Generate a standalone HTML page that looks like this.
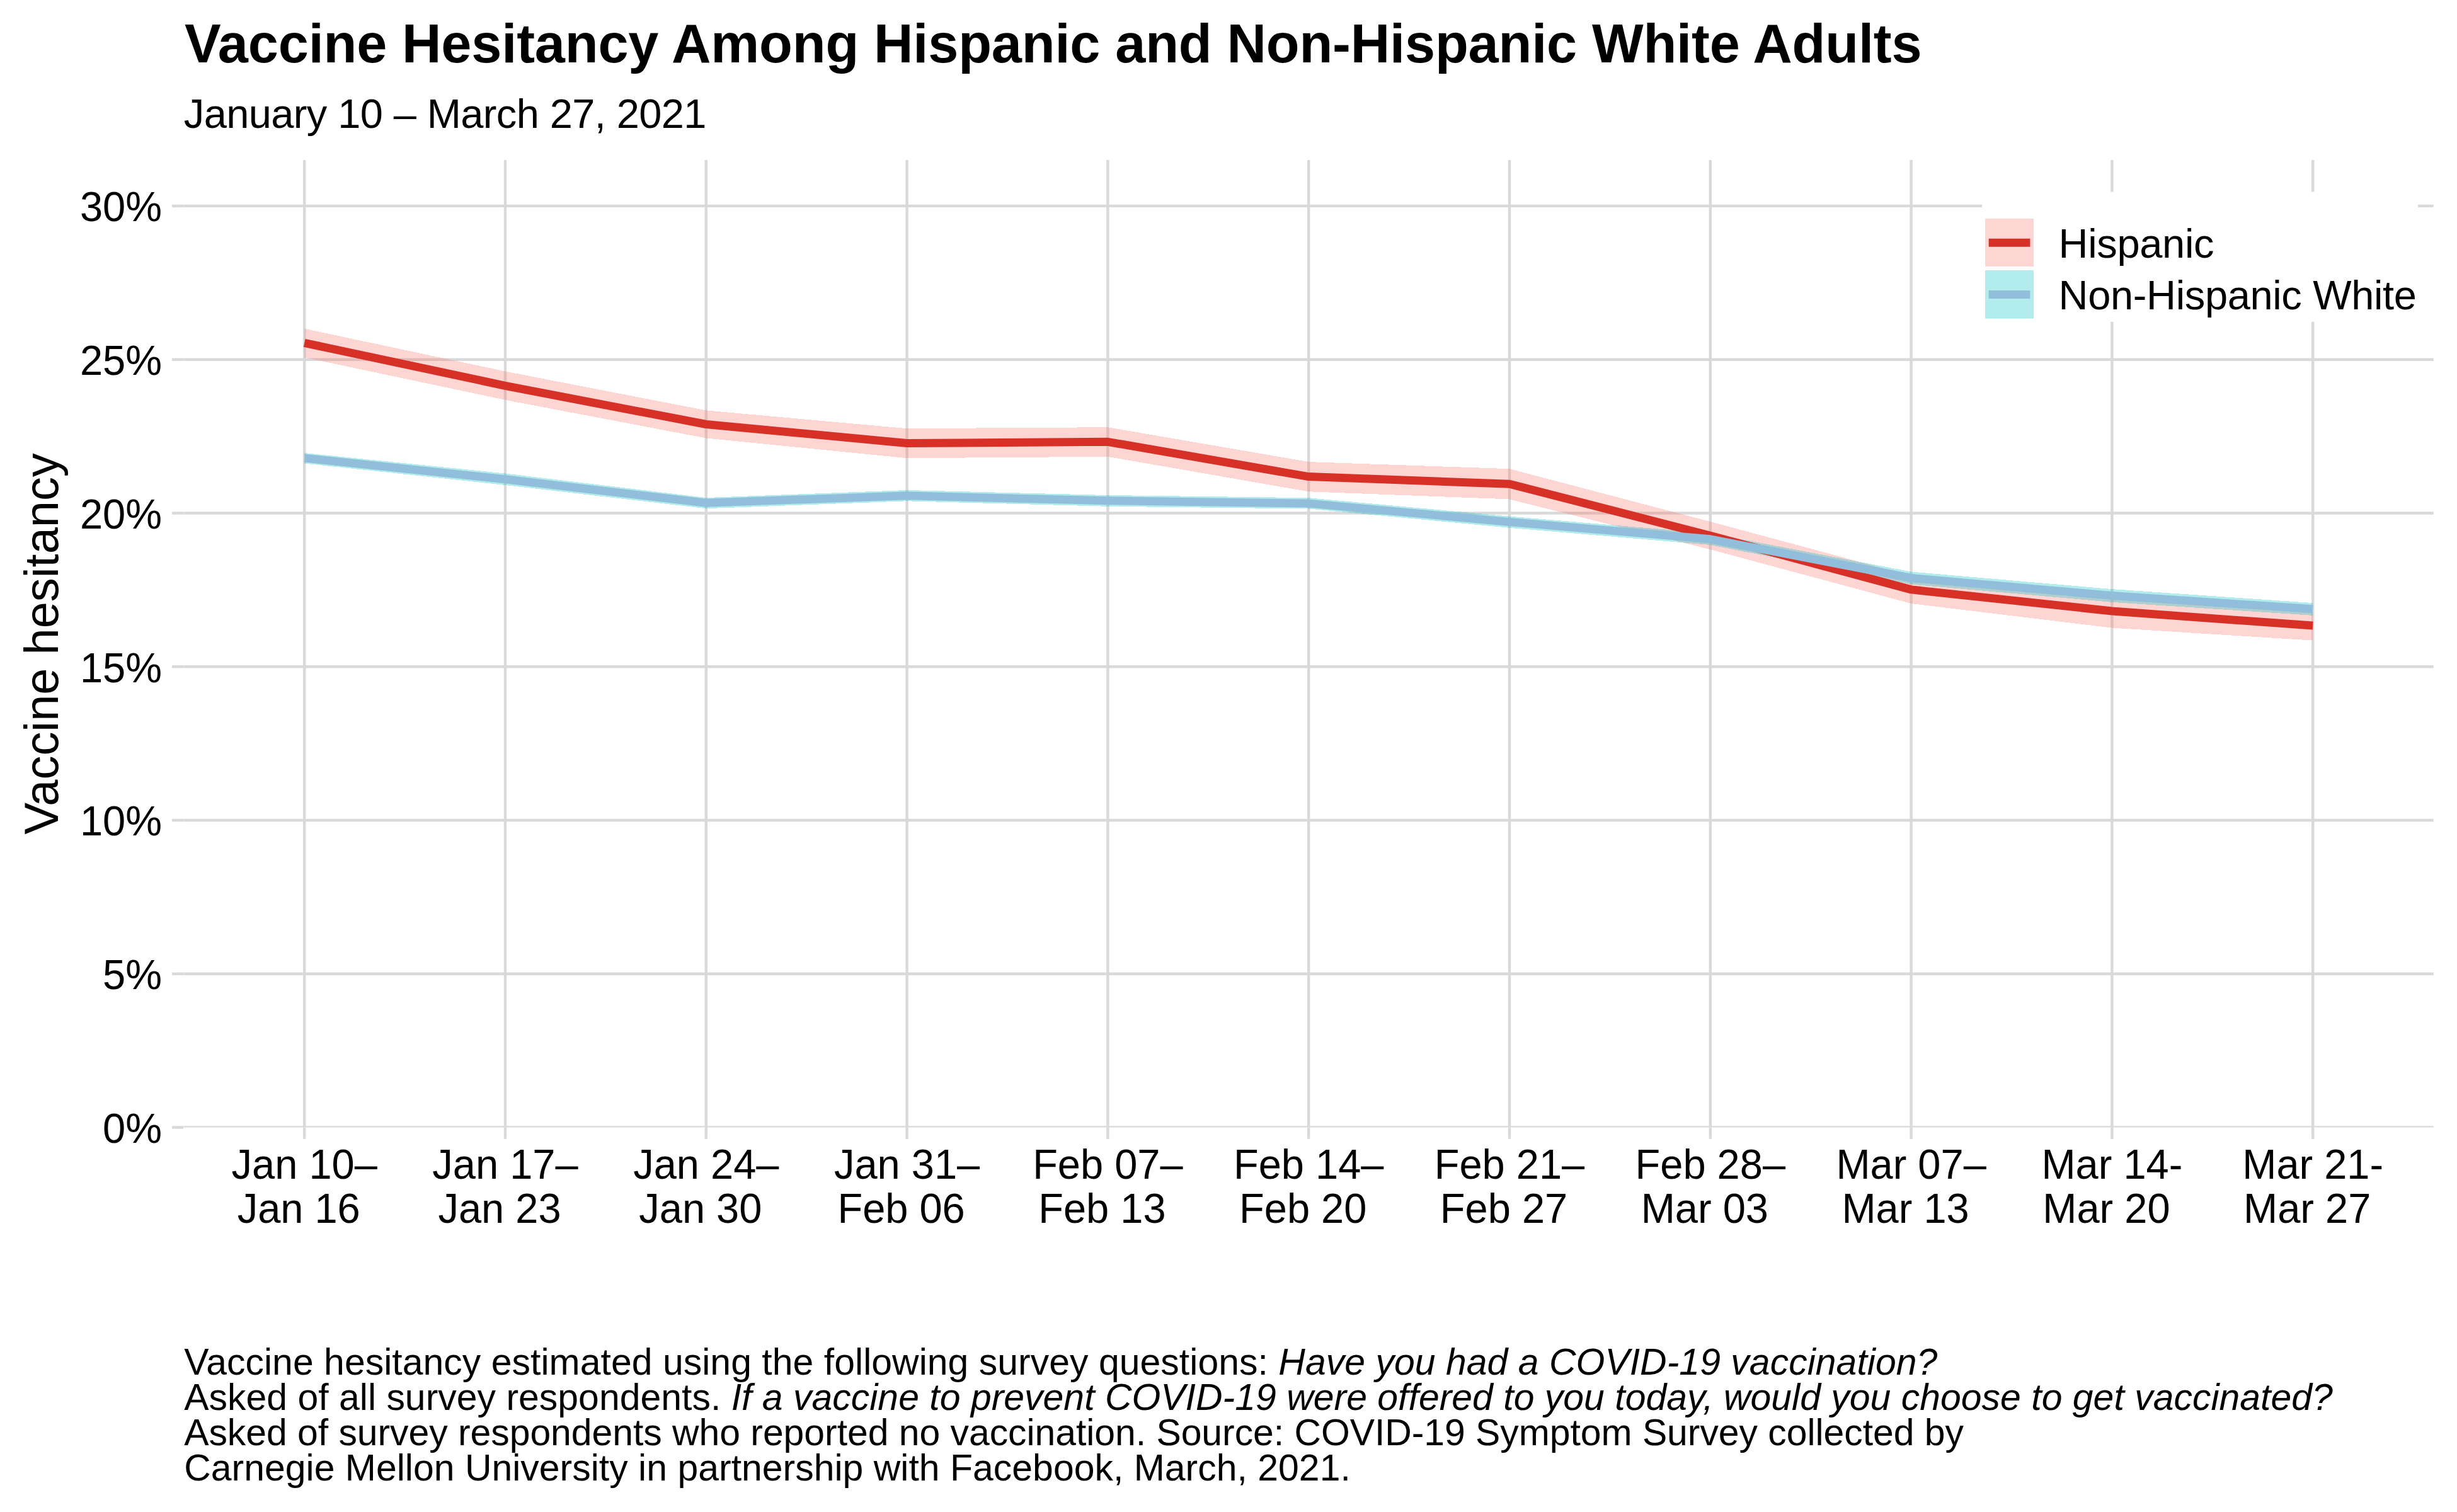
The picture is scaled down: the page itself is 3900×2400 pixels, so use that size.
<!DOCTYPE html>
<html lang="en"><head><meta charset="utf-8"><title>Vaccine Hesitancy Among Hispanic and Non-Hispanic White Adults</title>
<style>html,body{margin:0;padding:0;background:#fff}svg{display:block}text{font-family:"Liberation Sans",Arial,Helvetica,sans-serif;fill:#000}.ax{font-size:65px}.c{font-size:58.9px}.i{font-style:italic}</style></head><body>
<svg width="3900" height="2400" viewBox="0 0 3900 2400">
<rect width="3900" height="2400" fill="#fff"/>
<defs><clipPath id="pc"><rect x="291.2" y="253.9" width="3571.7" height="1535.6"/></clipPath></defs>
<g clip-path="url(#pc)" stroke="#D9D9D9" stroke-width="4.4" fill="none">
<line x1="291.2" y1="1789.5" x2="3862.9" y2="1789.5"/>
<line x1="291.2" y1="1545.7" x2="3862.9" y2="1545.7"/>
<line x1="291.2" y1="1302.0" x2="3862.9" y2="1302.0"/>
<line x1="291.2" y1="1058.2" x2="3862.9" y2="1058.2"/>
<line x1="291.2" y1="814.5" x2="3862.9" y2="814.5"/>
<line x1="291.2" y1="570.7" x2="3862.9" y2="570.7"/>
<line x1="291.2" y1="326.9" x2="3862.9" y2="326.9"/>
<line x1="483.2" y1="253.9" x2="483.2" y2="1789.5"/>
<line x1="802.0" y1="253.9" x2="802.0" y2="1789.5"/>
<line x1="1120.8" y1="253.9" x2="1120.8" y2="1789.5"/>
<line x1="1439.6" y1="253.9" x2="1439.6" y2="1789.5"/>
<line x1="1758.4" y1="253.9" x2="1758.4" y2="1789.5"/>
<line x1="2077.2" y1="253.9" x2="2077.2" y2="1789.5"/>
<line x1="2396.0" y1="253.9" x2="2396.0" y2="1789.5"/>
<line x1="2714.8" y1="253.9" x2="2714.8" y2="1789.5"/>
<line x1="3033.6" y1="253.9" x2="3033.6" y2="1789.5"/>
<line x1="3352.4" y1="253.9" x2="3352.4" y2="1789.5"/>
<line x1="3671.2" y1="253.9" x2="3671.2" y2="1789.5"/>
</g>
<g stroke="#D9D9D9" stroke-width="4.4" fill="none">
<line x1="272.9" y1="1789.5" x2="291.2" y2="1789.5"/>
<line x1="272.9" y1="1545.7" x2="291.2" y2="1545.7"/>
<line x1="272.9" y1="1302.0" x2="291.2" y2="1302.0"/>
<line x1="272.9" y1="1058.2" x2="291.2" y2="1058.2"/>
<line x1="272.9" y1="814.5" x2="291.2" y2="814.5"/>
<line x1="272.9" y1="570.7" x2="291.2" y2="570.7"/>
<line x1="272.9" y1="326.9" x2="291.2" y2="326.9"/>
<line x1="483.2" y1="1789.5" x2="483.2" y2="1807.8"/>
<line x1="802.0" y1="1789.5" x2="802.0" y2="1807.8"/>
<line x1="1120.8" y1="1789.5" x2="1120.8" y2="1807.8"/>
<line x1="1439.6" y1="1789.5" x2="1439.6" y2="1807.8"/>
<line x1="1758.4" y1="1789.5" x2="1758.4" y2="1807.8"/>
<line x1="2077.2" y1="1789.5" x2="2077.2" y2="1807.8"/>
<line x1="2396.0" y1="1789.5" x2="2396.0" y2="1807.8"/>
<line x1="2714.8" y1="1789.5" x2="2714.8" y2="1807.8"/>
<line x1="3033.6" y1="1789.5" x2="3033.6" y2="1807.8"/>
<line x1="3352.4" y1="1789.5" x2="3352.4" y2="1807.8"/>
<line x1="3671.2" y1="1789.5" x2="3671.2" y2="1807.8"/>
</g>
<g clip-path="url(#pc)">
<polygon points="483.2,521.7 802.0,589.5 1120.8,651.4 1439.6,680.2 1758.4,678.2 2077.2,733.1 2396.0,744.2 2714.8,828.0 3033.6,913.9 3352.4,943.4 3671.2,969.6 3671.2,1016.6 3352.4,996.6 3033.6,958.0 2714.8,872.2 2396.0,792.4 2077.2,780.3 1758.4,724.8 1439.6,727.2 1120.8,695.5 802.0,634.8 483.2,567.3" fill="#F8766D" fill-opacity="0.3" shape-rendering="crispEdges"/>
<polygon points="483.2,719.0 802.0,751.5 1120.8,790.0 1439.6,778.0 1758.4,786.0 2077.2,790.2 2396.0,819.6 2714.8,846.5 3033.6,907.5 3352.4,935.1 3671.2,957.1 3671.2,976.9 3352.4,955.9 3033.6,927.5 2714.8,865.0 2396.0,837.8 2077.2,807.5 1758.4,803.8 1439.6,795.3 1120.8,807.2 802.0,770.0 483.2,735.5" fill="#00BFC4" fill-opacity="0.3" shape-rendering="crispEdges"/>
<polyline points="483.2,544.3 802.0,612.3 1120.8,673.5 1439.6,703.5 1758.4,701.3 2077.2,756.6 2396.0,768.2 2714.8,850.3 3033.6,935.9 3352.4,970.0 3671.2,993.1" fill="none" stroke="#D73027" stroke-width="13" stroke-linejoin="round" stroke-linecap="butt"/>
<polyline points="483.2,727.1 802.0,760.8 1120.8,798.3 1439.6,786.8 1758.4,794.8 2077.2,799.1 2396.0,828.5 2714.8,855.8 3033.6,917.5 3352.4,945.5 3671.2,966.8" fill="none" stroke="#91BFDB" stroke-width="13" stroke-linejoin="round" stroke-linecap="butt"/>
</g>
<rect x="3146.2" y="304.5" width="691.9" height="206.3" fill="#fff"/>
<rect x="3151" y="347" width="77" height="76" fill="#F8766D" fill-opacity="0.3"/>
<rect x="3151" y="429" width="77" height="76.7" fill="#00BFC4" fill-opacity="0.3"/>
<line x1="3156.7" y1="385.2" x2="3222.4" y2="385.2" stroke="#D73027" stroke-width="13"/>
<line x1="3156.7" y1="467.4" x2="3222.4" y2="467.4" stroke="#91BFDB" stroke-width="13"/>
<text id="leg1" textLength="246.9" lengthAdjust="spacing" class="ax" x="3267.6" y="409">Hispanic</text>
<text id="leg2" textLength="568.3" lengthAdjust="spacing" class="ax" x="3267.6" y="491">Non-Hispanic White</text>
<text id="title" textLength="2757.6" lengthAdjust="spacing" x="293" y="99" font-size="86.5" font-weight="bold">Vaccine Hesitancy Among Hispanic and Non-Hispanic White Adults</text>
<text id="sub" textLength="829.6" lengthAdjust="spacing" class="ax" x="291.8" y="202.7">January 10 – March 27, 2021</text>
<text class="ax" text-anchor="end" transform="translate(257 1813.8) scale(1 1.03)">0%</text>
<text class="ax" text-anchor="end" transform="translate(257 1570.0) scale(1 1.03)">5%</text>
<text class="ax" text-anchor="end" transform="translate(257 1326.3) scale(1 1.03)">10%</text>
<text class="ax" text-anchor="end" transform="translate(257 1082.5) scale(1 1.03)">15%</text>
<text class="ax" text-anchor="end" transform="translate(257 838.8) scale(1 1.03)">20%</text>
<text class="ax" text-anchor="end" transform="translate(257 595.0) scale(1 1.03)">25%</text>
<text class="ax" text-anchor="end" transform="translate(257 351.2) scale(1 1.03)">30%</text>
<text class="ax" text-anchor="middle" transform="translate(483.2 1870.9) scale(1 1.03)">Jan 10–</text>
<text class="ax" text-anchor="middle" transform="translate(474.2 1940.9) scale(1 1.03)">Jan 16</text>
<text class="ax" text-anchor="middle" transform="translate(802.0 1870.9) scale(1 1.03)">Jan 17–</text>
<text class="ax" text-anchor="middle" transform="translate(793.0 1940.9) scale(1 1.03)">Jan 23</text>
<text class="ax" text-anchor="middle" transform="translate(1120.8 1870.9) scale(1 1.03)">Jan 24–</text>
<text class="ax" text-anchor="middle" transform="translate(1111.8 1940.9) scale(1 1.03)">Jan 30</text>
<text class="ax" text-anchor="middle" transform="translate(1439.6 1870.9) scale(1 1.03)">Jan 31–</text>
<text class="ax" text-anchor="middle" transform="translate(1430.6 1940.9) scale(1 1.03)">Feb 06</text>
<text class="ax" text-anchor="middle" transform="translate(1758.4 1870.9) scale(1 1.03)">Feb 07–</text>
<text class="ax" text-anchor="middle" transform="translate(1749.4 1940.9) scale(1 1.03)">Feb 13</text>
<text class="ax" text-anchor="middle" transform="translate(2077.2 1870.9) scale(1 1.03)">Feb 14–</text>
<text class="ax" text-anchor="middle" transform="translate(2068.2 1940.9) scale(1 1.03)">Feb 20</text>
<text class="ax" text-anchor="middle" transform="translate(2396.0 1870.9) scale(1 1.03)">Feb 21–</text>
<text class="ax" text-anchor="middle" transform="translate(2387.0 1940.9) scale(1 1.03)">Feb 27</text>
<text class="ax" text-anchor="middle" transform="translate(2714.8 1870.9) scale(1 1.03)">Feb 28–</text>
<text class="ax" text-anchor="middle" transform="translate(2705.8 1940.9) scale(1 1.03)">Mar 03</text>
<text class="ax" text-anchor="middle" transform="translate(3033.6 1870.9) scale(1 1.03)">Mar 07–</text>
<text class="ax" text-anchor="middle" transform="translate(3024.6 1940.9) scale(1 1.03)">Mar 13</text>
<text class="ax" text-anchor="middle" transform="translate(3352.4 1870.9) scale(1 1.03)">Mar 14-</text>
<text class="ax" text-anchor="middle" transform="translate(3343.4 1940.9) scale(1 1.03)">Mar 20</text>
<text class="ax" text-anchor="middle" transform="translate(3671.2 1870.9) scale(1 1.03)">Mar 21-</text>
<text class="ax" text-anchor="middle" transform="translate(3662.2 1940.9) scale(1 1.03)">Mar 27</text>
<text id="yt" text-anchor="middle" font-size="75.8" transform="translate(92.2,1021.9) rotate(-90)">Vaccine hesitancy</text>
<text id="cap1" textLength="2783.1" lengthAdjust="spacing" class="c" x="292.2" y="2181.9">Vaccine hesitancy estimated using the following survey questions: <tspan class="i">Have you had a COVID-19 vaccination?</tspan></text>
<text id="cap2" textLength="3410.6" lengthAdjust="spacing" class="c" x="292.2" y="2238.2">Asked of all survey respondents. <tspan class="i">If a vaccine to prevent COVID-19 were offered to you today, would you choose to get vaccinated?</tspan></text>
<text id="cap3" textLength="2824.7" lengthAdjust="spacing" class="c" x="292.2" y="2294">Asked of survey respondents who reported no vaccination. Source: COVID-19 Symptom Survey collected by</text>
<text id="cap4" textLength="1851.6" lengthAdjust="spacing" class="c" x="292.2" y="2349.9">Carnegie Mellon University in partnership with Facebook, March, 2021.</text>
</svg></body></html>
